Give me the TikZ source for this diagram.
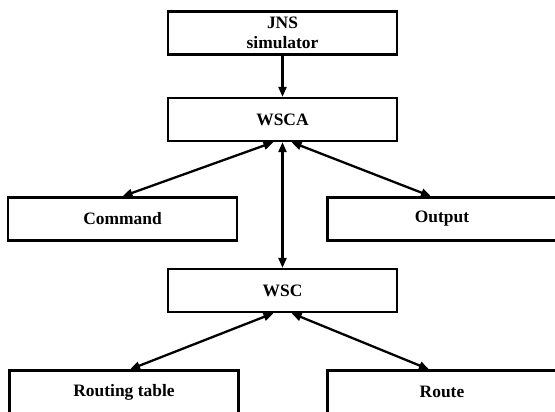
\documentclass[tikz,border=0pt]{standalone}
\usepackage{fontspec}
\setmainfont{Liberation Serif}
\usetikzlibrary{arrows.meta}

\tikzset{
    block/.style={draw, line width=2.3bp, minimum width=229bp, minimum height=43bp,
        inner sep=0pt, align=center, font=\fontsize{17.5}{19.5}\selectfont\bfseries},
    link/.style={line width=2.3bp, -{Triangle[length=10bp,width=8bp]}},
    dlink/.style={line width=2.3bp, {Triangle[length=10bp,width=8bp]}-{Triangle[length=10bp,width=8bp]}}
}

\begin{document}
\begin{tikzpicture}[x=1bp, y=-1bp]
        \useasboundingbox (0,0) rectangle (555,411);

        % blocks
        \node[block] (jns) at (282.5, 33) {JNS\\simulator};
        \node[block] (wsca) at (282.5, 119.5) {WSCA};
        \node[block] (cmd) at (122.5, 219) {Command};
        \node[block] (out) at (442, 219) {Output};
        \node[block] (wsc) at (282.5, 290.5) {WSC};
        \node[block] (rtab) at (124, 392) {Routing table};
        \node[block] (route) at (442, 392) {Route};

        % links
        \draw[link] (jns) -- (wsca);
        \draw[dlink] ([xshift=-9bp]wsca.south) -- (cmd.north);
        \draw[dlink] ([xshift=9bp]wsca.south) -- ([xshift=-11bp]out.north);
        \draw[dlink] (wsca) -- (wsc);
        \draw[dlink] ([xshift=-9bp]wsc.south) -- ([xshift=6bp]rtab.north);
        \draw[dlink] ([xshift=9bp]wsc.south) -- ([xshift=-13bp]route.north);

    \end{tikzpicture}
\end{document}
